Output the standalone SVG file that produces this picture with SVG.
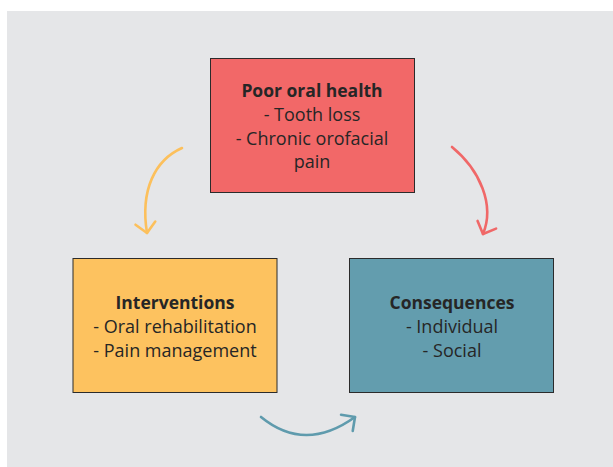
<svg xmlns="http://www.w3.org/2000/svg" width="613" height="467" viewBox="0 0 613 467">
<style>
.box{stroke:#2b2b2b;stroke-width:1}
.t{font-family:"Open Sans","Noto Sans",sans-serif;font-size:18px;fill:#262626;text-anchor:middle}
.b{font-weight:bold;font-size:17.5px}
.arr{fill:none;stroke-width:2.6;stroke-linecap:round;stroke-linejoin:round}
</style>
<defs>
<marker id="hy" markerUnits="userSpaceOnUse" orient="auto" overflow="visible" refX="0" refY="0" markerWidth="20" markerHeight="20"><path d="M-10,-10 L0,0 L-10,10" fill="none" stroke="#fcc05c" stroke-width="2.6" stroke-linecap="round" stroke-linejoin="round"/></marker>
<marker id="hr" markerUnits="userSpaceOnUse" orient="auto" overflow="visible" refX="0" refY="0" markerWidth="20" markerHeight="20"><path d="M-10,-10 L0,0 L-10,10" fill="none" stroke="#f06868" stroke-width="2.6" stroke-linecap="round" stroke-linejoin="round"/></marker>
<marker id="ht" markerUnits="userSpaceOnUse" orient="auto" overflow="visible" refX="0" refY="0" markerWidth="20" markerHeight="20"><path d="M-10,-10 L0,0 L-10,10" fill="none" stroke="#5f9bad" stroke-width="2.6" stroke-linecap="round" stroke-linejoin="round"/></marker>
</defs>
<rect x="7" y="11" width="606" height="456" fill="#e5e6e8"/>
<g id="connectors">
<path class="arr" d="M182,148 C155,160 140,190 147,233" stroke="#fcc05c" marker-end="url(#hy)"/>
<path class="arr" d="M452,147 C480,170 495,205 483,234" stroke="#f06868" marker-end="url(#hr)"/>
<path class="arr" d="M261,417 Q305,453 355,417" stroke="#5f9bad" marker-end="url(#ht)"/>
</g>
<g id="poor-oral-health">
<rect class="box" x="210.5" y="58.5" width="204" height="134" fill="#f26868"/>
<text class="t b" x="312" y="97">Poor oral health</text>
<text class="t" x="312" y="121">- Tooth loss</text>
<text class="t" x="312" y="145">- Chronic orofacial</text>
<text class="t" x="312" y="168">pain</text>
</g>
<g id="interventions">
<rect class="box" x="73" y="258.5" width="204" height="134" fill="#fdc25f"/>
<text class="t b" x="175" y="309">Interventions</text>
<text class="t" x="175" y="333">- Oral rehabilitation</text>
<text class="t" x="175" y="357">- Pain management</text>
</g>
<g id="consequences">
<rect class="box" x="349.5" y="258.5" width="204" height="134" fill="#639dae"/>
<text class="t b" x="452" y="309">Consequences</text>
<text class="t" x="452" y="333">- Individual</text>
<text class="t" x="452" y="357">- Social</text>
</g>
</svg>
